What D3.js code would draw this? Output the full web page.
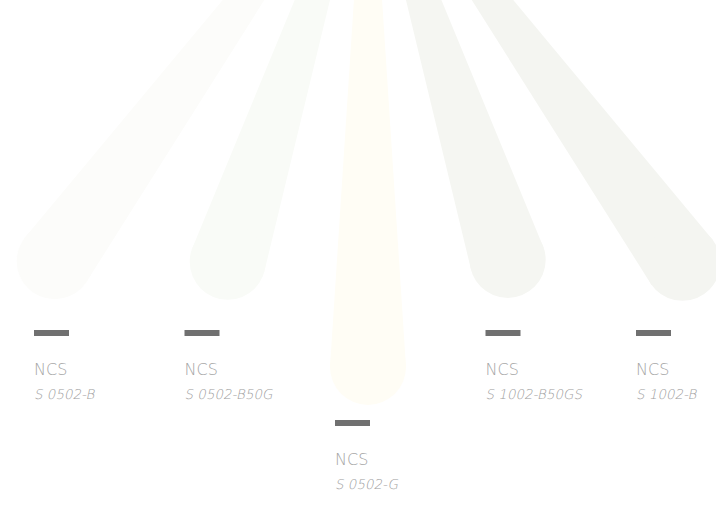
<!DOCTYPE html>
<html>
<head>
<meta charset="utf-8">
<script src="https://cdn.jsdelivr.net/npm/d3@7"></script>
<style>
  html, body { margin: 0; padding: 0; background: #fff; }
  svg { display: block; }
  .ncs { font-family: "DejaVu Sans", sans-serif; font-size: 16px; fill: #a5a5a5; font-weight: 200; }
  .code { font-family: "DejaVu Sans", sans-serif; font-size: 13.5px; fill: #a0a0a0; font-weight: 200; }
</style>
</head>
<body>
<svg id="chart" width="716" height="505"></svg>
<script>
// swatches, left to right
let codes = ["S 0502-B", "S 0502-B50G", "S 0502-G", "S 1002-B50GS", "S 1002-B"];
let swatchColors = ["#fcfcfa", "#f9fbf7", "#fffdf5", "#f5f6f2", "#f4f5f1"];
// length of each ray from the common origin
let rayLength = [533, 454, 537, 452, 535];

let width = 716,
    height = 505;
let origin = { x: 368, y: -170 };
let tipR = 38,     // radius of the round end
    baseHalf = 3;  // half width near the origin

let svg = d3.select('#chart');

// angle of each ray, evenly spread
let angle = d3.scalePoint()
    .domain(codes)
    .range([36, -36]);  // degrees, measured from straight down

// label column positions
let labelX = d3.scalePoint()
    .domain(codes)
    .range([34, 636]);

let rays = svg.append('g').attr('transform', 'translate(' + origin.x + ',' + origin.y + ')');

codes.forEach(function (code, i) {
    let a = angle(code) * Math.PI / 180;
    let L = rayLength[i];
    // direction vector (down = +y) and its normal
    let dx = -Math.sin(a), dy = Math.cos(a);
    let nx = dy, ny = -dx;
    let end = [dx * L, dy * L];
    let pts = [
        [nx * baseHalf, ny * baseHalf],
        [end[0] + nx * tipR, end[1] + ny * tipR],
        [end[0] - nx * tipR, end[1] - ny * tipR],
        [-nx * baseHalf, -ny * baseHalf]
    ];
    let g = rays.append('g').attr('class', 'ray');
    g.append('path')
        .attr('d', d3.line()(pts) + 'Z')
        .style('fill', swatchColors[i]);
    g.append('circle')
        .attr('cx', end[0])
        .attr('cy', end[1])
        .attr('r', tipR)
        .style('fill', swatchColors[i]);
});

// labels go in a row under the tips; the long middle ray pushes its label down
let labels = svg.selectAll('.label')
    .data(codes)
    .enter()
    .append('g')
    .attr('class', 'label')
    .attr('transform', function (d, i) {
        let a = angle(d) * Math.PI / 180;
        let tipBottom = origin.y + Math.cos(a) * rayLength[i] + tipR;
        let y = tipBottom > 320 ? 420 : 330;
        return 'translate(' + labelX(d) + ',' + y + ')';
    });

labels.append('rect')
    .attr('x', 0)
    .attr('y', 0)
    .attr('width', 35)
    .attr('height', 6)
    .style('fill', '#707070');
labels.append('text')
    .attr('class', 'ncs')
    .attr('x', 0)
    .attr('y', 45)
    .text('NCS');
// light face has no italic, so slant it by hand
labels.append('g')
    .attr('transform', 'translate(0,69) skewX(-12)')
    .append('text')
    .attr('class', 'code')
    .attr('x', 0)
    .attr('y', 0)
    .text(function (d) { return d; });
</script>
</body>
</html>
